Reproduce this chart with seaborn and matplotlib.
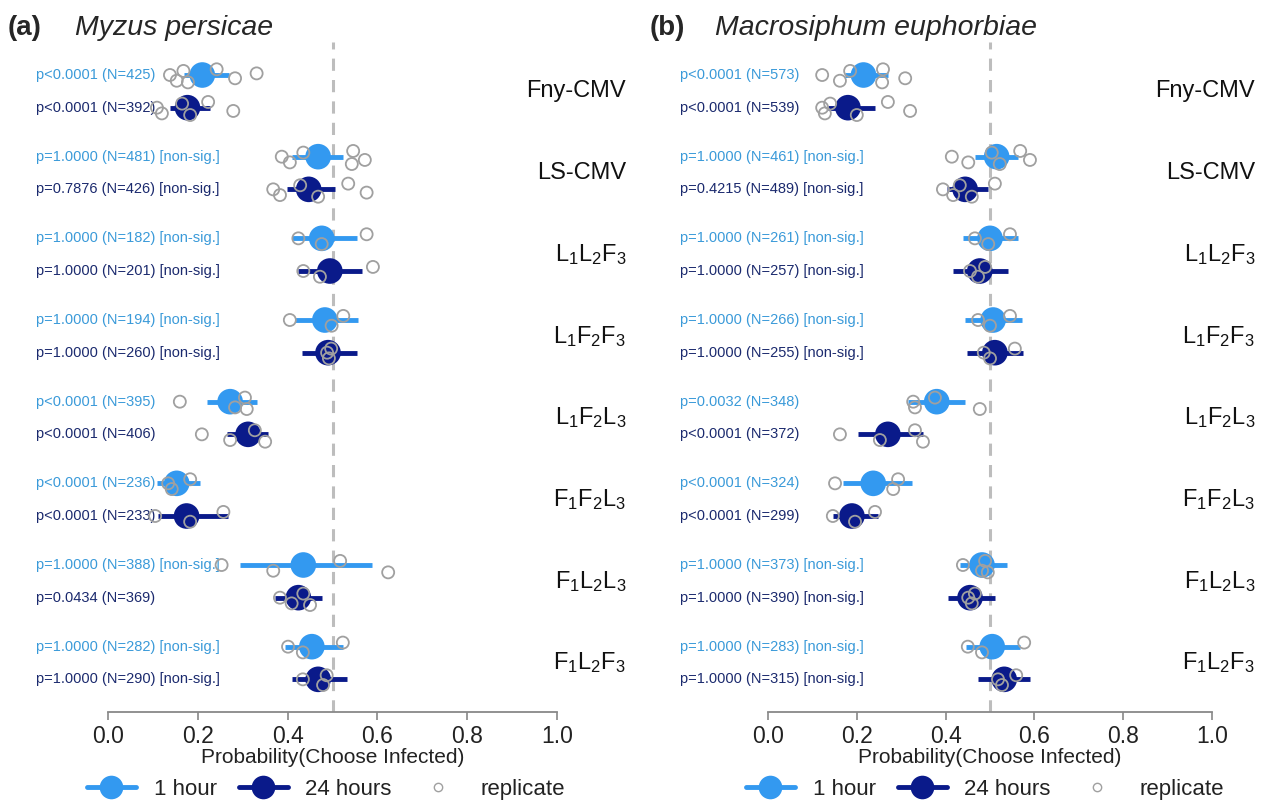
import seaborn as sns
import pandas as pd
import matplotlib.pyplot as plt
from matplotlib.lines import Line2D

# strain labels (row order, top to bottom)
strains = ["Fny-CMV", "LS-CMV", "L1L2F3", "L1F2F3", "L1F2L3", "F1F2L3", "F1L2L3", "F1L2F3"]
strain_labels = ["Fny-CMV", "LS-CMV",
                 r"$\mathregular{L_1L_2F_3}$", r"$\mathregular{L_1F_2F_3}$",
                 r"$\mathregular{L_1F_2L_3}$", r"$\mathregular{F_1F_2L_3}$",
                 r"$\mathregular{F_1L_2L_3}$", r"$\mathregular{F_1L_2F_3}$"]

# (a) Myzus persicae
a_p_1h = ["p<0.0001", "p=1.0000", "p=1.0000", "p=1.0000", "p<0.0001", "p<0.0001", "p=1.0000", "p=1.0000"]
a_n_1h = [425, 481, 182, 194, 395, 236, 388, 282]
a_p_24h = ["p<0.0001", "p=0.7876", "p=1.0000", "p=1.0000", "p<0.0001", "p<0.0001", "p=0.0434", "p=1.0000"]
a_n_24h = [392, 426, 201, 260, 406, 233, 369, 290]
a_mean_1h = [0.21, 0.468, 0.476, 0.483, 0.272, 0.153, 0.435, 0.454]
a_lo_1h = [0.17, 0.41, 0.41, 0.416, 0.22, 0.109, 0.294, 0.394]
a_hi_1h = [0.27, 0.524, 0.554, 0.557, 0.331, 0.205, 0.587, 0.523]
a_mean_24h = [0.177, 0.447, 0.494, 0.49, 0.312, 0.175, 0.424, 0.468]
a_lo_24h = [0.138, 0.398, 0.424, 0.431, 0.265, 0.112, 0.372, 0.41]
a_hi_24h = [0.227, 0.505, 0.565, 0.554, 0.357, 0.268, 0.476, 0.532]
a_rep_1h = [[0.138, 0.153, 0.168, 0.178, 0.242, 0.283, 0.331],
            [0.387, 0.405, 0.435, 0.543, 0.546, 0.572],
            [0.424, 0.476, 0.576],
            [0.405, 0.498, 0.524],
            [0.16, 0.283, 0.305, 0.309],
            [0.134, 0.142, 0.183],
            [0.253, 0.368, 0.517, 0.624],
            [0.401, 0.434, 0.523]]
a_rep_24h = [[0.109, 0.12, 0.165, 0.183, 0.223, 0.279],
             [0.368, 0.383, 0.428, 0.468, 0.535, 0.576],
             [0.435, 0.472, 0.59],
             [0.488, 0.492, 0.497],
             [0.209, 0.272, 0.327, 0.35],
             [0.105, 0.183, 0.257],
             [0.383, 0.409, 0.435, 0.45],
             [0.434, 0.479, 0.487]]

# (b) Macrosiphum euphorbiae
b_p_1h = ["p<0.0001", "p=1.0000", "p=1.0000", "p=1.0000", "p=0.0032", "p<0.0001", "p=1.0000", "p=1.0000"]
b_n_1h = [573, 461, 261, 266, 348, 324, 373, 283]
b_p_24h = ["p<0.0001", "p=0.4215", "p=1.0000", "p=1.0000", "p<0.0001", "p<0.0001", "p=1.0000", "p=1.0000"]
b_n_24h = [539, 489, 257, 255, 372, 299, 390, 315]
b_mean_1h = [0.215, 0.515, 0.5, 0.507, 0.38, 0.237, 0.482, 0.505]
b_lo_1h = [0.173, 0.466, 0.44, 0.444, 0.316, 0.169, 0.432, 0.446]
b_hi_1h = [0.27, 0.564, 0.564, 0.572, 0.444, 0.324, 0.538, 0.568]
b_mean_24h = [0.18, 0.444, 0.477, 0.511, 0.27, 0.189, 0.455, 0.532]
b_lo_24h = [0.135, 0.403, 0.417, 0.448, 0.203, 0.146, 0.405, 0.473]
b_hi_24h = [0.241, 0.496, 0.541, 0.574, 0.349, 0.248, 0.511, 0.59]
b_rep_1h = [[0.122, 0.162, 0.185, 0.257, 0.259, 0.309],
            [0.414, 0.451, 0.504, 0.522, 0.568, 0.59],
            [0.466, 0.496, 0.545],
            [0.473, 0.5, 0.545],
            [0.327, 0.331, 0.376, 0.477],
            [0.151, 0.282, 0.293],
            [0.439, 0.482, 0.489, 0.495],
            [0.45, 0.482, 0.577]]
b_rep_24h = [[0.122, 0.128, 0.14, 0.2, 0.27, 0.32],
             [0.394, 0.417, 0.432, 0.459, 0.511],
             [0.455, 0.473, 0.489],
             [0.486, 0.5, 0.556],
             [0.162, 0.252, 0.331, 0.349],
             [0.146, 0.196, 0.241],
             [0.451, 0.459, 0.466],
             [0.518, 0.527, 0.559]]

C1 = "#3399f0"   # 1 hour
C24 = "#0a1a8a"  # 24 hours
T1 = "#3a9ad9"
T24 = "#1b2a6e"
GREY = "#a0a0a0"

sns.set_theme(style="white")
plt.rcParams['font.family'] = ['Liberation Sans', 'DejaVu Sans']
plt.rcParams['mathtext.fontset'] = 'custom'
plt.rcParams['mathtext.rm'] = 'Liberation Sans'

JIT = [0.0, 0.07, -0.05, 0.09, -0.07, 0.04, -0.02]
OFF = 0.2


def build_frames(mean_1h, lo_1h, hi_1h, mean_24h, lo_24h, hi_24h, rep_1h, rep_24h):
    rows = []
    reps = []
    for i, s in enumerate(strains):
        for t, m, lo, hi, rp, dy in [("1 hour", mean_1h, lo_1h, hi_1h, rep_1h, -OFF),
                                     ("24 hours", mean_24h, lo_24h, hi_24h, rep_24h, OFF)]:
            rows.append({"strain": s, "time": t, "mean": m[i], "lo": lo[i], "hi": hi[i], "y": i + dy})
            for k, v in enumerate(rp[i]):
                reps.append({"strain": s, "time": t, "value": v, "y": i + dy + JIT[k % len(JIT)]})
    return pd.DataFrame(rows), pd.DataFrame(reps)


def label(p, n):
    val = float(p[2:])
    txt = f"{p} (N={n})"
    if p[1] == "=" and val >= 0.05:
        txt += " [non-sig.]"
    return txt


def draw_panel(ax, xlim, text_x, name_x, df, reps, p1, n1, p24, n24):
    ax.axvline(0.5, ymin=0, ymax=0.99, color="#bdbdbd", lw=2.2, ls=(0, (4, 3)), zorder=1)
    for t, c in [("1 hour", C1), ("24 hours", C24)]:
        sub = df[df["time"] == t]
        ax.hlines(sub["y"], sub["lo"], sub["hi"], color=c, lw=3.5, zorder=2)
    sns.scatterplot(data=df, x="mean", y="y", hue="time", palette={"1 hour": C1, "24 hours": C24},
                    s=340, edgecolor="none", legend=False, ax=ax, zorder=3)
    sns.scatterplot(data=reps, x="value", y="y", marker="o", s=75, facecolor="none",
                    edgecolor=GREY, linewidth=1.3, legend=False, ax=ax, zorder=4)
    for i in range(len(strains)):
        ax.text(text_x, i - OFF, label(p1[i], n1[i]), color=T1, fontsize=10.5, va="center", ha="left")
        ax.text(text_x, i + OFF, label(p24[i], n24[i]), color=T24, fontsize=10.5, va="center", ha="left")
        ax.text(name_x, i, strain_labels[i], fontsize=17, va="center", ha="right", color="#111111")
    ax.set_xlim(*xlim)
    ax.set_ylim(7.6, -0.69)
    for sp in ["top", "left", "right"]:
        ax.spines[sp].set_visible(False)
    ax.spines["bottom"].set_bounds(0, 1)
    ax.spines["bottom"].set_color("#888888")
    ax.spines["bottom"].set_linewidth(1.3)
    ax.set_xticks([0, 0.2, 0.4, 0.6, 0.8, 1.0])
    ax.set_xticklabels(["0.0", "0.2", "0.4", "0.6", "0.8", "1.0"])
    ax.tick_params(axis="x", bottom=True, length=6, width=1.2, color="#888888",
                   labelsize=16.5, pad=3, labelcolor="#222222")
    ax.set_yticks([])
    ax.set_ylabel("")
    ax.set_xlabel("Probability(Choose Infected)", fontsize=15, labelpad=0, color="#222222")
    ax.xaxis.label.set_x((0.5 - xlim[0]) / (xlim[1] - xlim[0]))


fig = plt.figure(figsize=(12.65, 8.05), dpi=100)
H = 805
W = 1265
ax_a = fig.add_axes([30 / W, 1 - 712 / H, 600 / W, (712 - 35) / H])
ax_b = fig.add_axes([670 / W, 1 - 712 / H, 590 / W, (712 - 35) / H])

df_a, reps_a = build_frames(a_mean_1h, a_lo_1h, a_hi_1h, a_mean_24h, a_lo_24h, a_hi_24h, a_rep_1h, a_rep_24h)
df_b, reps_b = build_frames(b_mean_1h, b_lo_1h, b_hi_1h, b_mean_24h, b_lo_24h, b_hi_24h, b_rep_1h, b_rep_24h)

draw_panel(ax_a, ((30 - 108) / 449, (630 - 108) / 449), -0.160, 1.154, df_a, reps_a,
           a_p_1h, a_n_1h, a_p_24h, a_n_24h)
draw_panel(ax_b, ((670 - 768) / 444, (1260 - 768) / 444), -0.198, 1.097, df_b, reps_b,
           b_p_1h, b_n_1h, b_p_24h, b_n_24h)

# titles
fig.text(8 / W, 1 - 28 / H, "(a)", fontsize=20, fontweight="bold", va="center")
fig.text(75 / W, 1 - 28 / H, "Myzus persicae", fontsize=20.5, style="italic", va="center")
fig.text(650 / W, 1 - 28 / H, "(b)", fontsize=20, fontweight="bold", va="center")
fig.text(715 / W, 1 - 28 / H, "Macrosiphum euphorbiae", fontsize=20.5, style="italic", va="center")

# legends
handles = [Line2D([], [], color=C1, lw=3.5, marker="o", markersize=17, markeredgewidth=0),
           Line2D([], [], color=C24, lw=3.5, marker="o", markersize=17, markeredgewidth=0),
           Line2D([], [], ls="none", marker="o", markersize=6, markerfacecolor="none",
                  markeredgecolor=GREY, markeredgewidth=1.0)]
names = ["1 hour", "24 hours", "replicate"]
for cx in [326, 985]:
    fig.legend(handles, names, loc="center", bbox_to_anchor=(cx / W, 1 - 789 / H),
               ncol=3, frameon=False, fontsize=16, handlelength=2.2, columnspacing=1.0,
               handletextpad=0.8, labelcolor="#222222")

fig.savefig("out.png", dpi=100)
